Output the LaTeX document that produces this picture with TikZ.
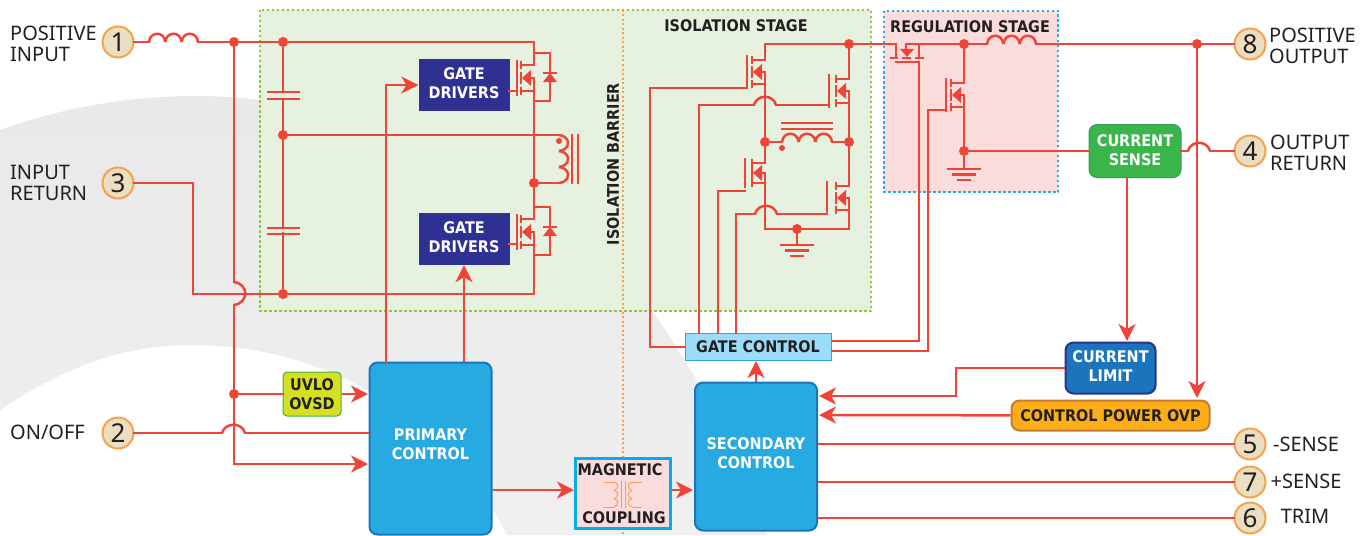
\documentclass[tikz,border=0pt]{standalone}
\usepackage{fontspec}
\setmainfont{Noto Sans}
\newfontfamily\boxfont{DejaVu Sans Condensed}
\usepackage{tkz-euclide}
\usepackage{xcolor}
\usetikzlibrary{arrows, arrows.meta}

\definecolor{wirered}{HTML}{F04438}
\definecolor{bgreytop}{HTML}{E9E9E9}
\definecolor{bgreylow}{HTML}{EFEFEF}
\definecolor{isogreen}{HTML}{E6F1DF}
\definecolor{isodots}{HTML}{8DC63F}
\definecolor{regpink}{HTML}{FBDCDD}
\definecolor{regdots}{HTML}{29ABE2}
\definecolor{magedge}{HTML}{00AEEF}
\definecolor{barorange}{HTML}{F9A14A}
\definecolor{inkdark}{HTML}{231F20}
\definecolor{ctrlblue}{HTML}{27AAE1}
\definecolor{ctrledge}{HTML}{1B75BC}
\definecolor{drvblue}{HTML}{2E3192}
\definecolor{pinfill}{HTML}{EADFC2}
\definecolor{uvlofill}{HTML}{D7DF23}
\definecolor{sensefill}{HTML}{39B54A}
\definecolor{senseedge}{HTML}{2E9E60}
\definecolor{gatefill}{HTML}{9BDCF9}
\definecolor{ovpfill}{HTML}{FBAE17}
\definecolor{ovpedge}{HTML}{C77B30}

\tikzset{
	wire/.style={color=wirered, line width=2.5pt, line cap=rect},
	flow/.style={wire, line cap=butt, -{Stealth[length=17pt,width=17pt,inset=5pt]}},
	thinwire/.style={color=barorange, line width=1pt},
	boxtext/.style={align=center, inner sep=0pt, font=\boxfont\bfseries\fontsize{16}{19}\selectfont},
	ctrlbox/.style={boxtext, rectangle, rounded corners=8pt, draw=ctrledge, line width=2pt, fill=ctrlblue, text=white},
	drvbox/.style={boxtext, rectangle, fill=drvblue, text=white, minimum width=91pt, minimum height=52pt, text depth=4pt},
	darktext/.style={boxtext, text=inkdark},
	pinball/.style={circle, draw=barorange, line width=2pt, fill=pinfill, minimum size=31pt, inner sep=0pt, text=inkdark, font=\fontsize{26}{26}\selectfont},
	pintext/.style={align=left, inner sep=0pt, text=inkdark, font=\fontsize{20}{21}\selectfont}
}

\newcommand{\fetsym}[4]{
	\draw[wire, line width=2pt, line cap=butt] (#4,{#2-#3-5}) -- (#4,{#2+#3+5});
	\draw[wire, line width=2pt, line cap=butt] (#1,{#2-#3-4}) -- (#1,{#2-#3+4}) (#1,{#2-6}) -- (#1,{#2+6}) (#1,{#2+#3-4}) -- (#1,{#2+#3+4});
	\draw[wire] (#1,{#2-#3}) -- ({#1+13},{#2-#3}) (#1,{#2+#3}) -- ({#1+13},{#2+#3}) -- ({#1+13},#2) -- ({#1+9},#2);
	\fill[wirered] ({#1+1},#2) -- ({#1+10},{#2-8}) -- ({#1+10},{#2+8}) -- cycle;
}
\newcommand{\diodesym}[2]{
	\draw[wire, line cap=butt] ({#1-7},#2) -- ({#1+7},#2);
	\fill[wirered] (#1,#2) -- ({#1+7},{#2+9}) -- ({#1-7},{#2+9}) -- cycle;
}
\newcommand{\capsym}[3]{
	\draw[wire, line cap=butt] ({#1-16.5},#2) -- ({#1+16.5},#2) ({#1-16.5},#3) -- ({#1+16.5},#3);
}
\newcommand{\gndsym}[2]{
	\draw[wire, line cap=butt] ({#1-17},#2) -- ({#1+17},#2) ({#1-12},{#2+5.5}) -- ({#1+12},{#2+5.5}) ({#1-7},{#2+11}) -- ({#1+7},{#2+11});
}
\newcommand{\coilh}[3]{
	\foreach \k in {0,1,2}
		\draw[wire, line cap=butt] ({#1+\k*#3},#2) .. controls +(1,-11) and +(-1,-11) .. +(#3,0);
}
\newcommand{\coilv}[5]{
	\foreach \k in {0,1,2}
		\draw[#1, line cap=butt] (#2,{#3+\k*#4}) .. controls +(#5,1) and +(#5,-1) .. +(0,#4);
}
\newcommand{\jumph}[2]{
	\draw[wire, line cap=butt] (#1) .. controls +(3,-11) and +(-3,-11) .. (#2);
}

\begin{document}
\begin{tikzpicture}[x=1pt,y=-1pt]
	\useasboundingbox (0,0) rectangle (1372,535);

	\path[top color=bgreytop, bottom color=bgreylow] (0,130) .. controls (60,108) and (130,96) .. (195,96) .. controls (400,96) and (590,220) .. (653,312) .. controls (700,380) and (745,460) .. (767,535) -- (507,535) .. controls (455,430) and (340,345) .. (190,345) .. controls (120,345) and (60,370) .. (0,410) -- cycle;
	\filldraw[fill=isogreen, draw=isodots, line width=2.5pt, dash pattern=on 2.5pt off 2.5pt] (260,10) rectangle (871,311);
	\filldraw[fill=regpink, draw=regdots, line width=2.5pt, dash pattern=on 2.5pt off 2.5pt] (884,11) rectangle (1058,192);
	\draw[barorange, line width=2pt, dash pattern=on 2pt off 2.5pt] (623,10) -- (623,535);

	\node[darktext] (isolab) at (736,26) {ISOLATION STAGE};
	\node[darktext] (reglab) at (970,27) {REGULATION STAGE};
	\node[darktext, rotate=90] (barlab) at (613,164) {ISOLATION BARRIER};

	\node[pinball] (t_1) at (118,42) {1};
	\node[pinball] (t_3) at (118,183) {3};
	\node[pinball] (t_2) at (118,433) {2};
	\node[pinball] (t_8) at (1250,44) {8};
	\node[pinball] (t_4) at (1250,151) {4};
	\node[pinball] (t_5) at (1250,444) {5};
	\node[pinball] (t_7) at (1250,482) {7};
	\node[pinball] (t_6) at (1250,518) {6};

	\node[pintext, anchor=west] (lab_1) at (10,44) {POSITIVE\\INPUT};
	\node[pintext, anchor=west] (lab_3) at (10,183) {INPUT\\RETURN};
	\node[pintext, anchor=west] (lab_2) at (10,432) {ON/OFF};
	\node[pintext, anchor=west] (lab_8) at (1269,46) {POSITIVE\\OUTPUT};
	\node[pintext, anchor=west] (lab_4) at (1270,153) {OUTPUT\\RETURN};
	\node[pintext] (lab_5) at (1306,444) {-SENSE};
	\node[pintext] (lab_7) at (1306,481) {+SENSE};
	\node[pintext] (lab_6) at (1305,516) {TRIM};

	\node[drvbox] (gd_1) at (464,85) {GATE\\DRIVERS};
	\node[drvbox] (gd_2) at (464,239) {GATE\\DRIVERS};
	\node[ctrlbox, minimum width=122pt, minimum height=172pt, text depth=8pt] (prim) at (430.5,448.5) {PRIMARY\\CONTROL};
	\node[ctrlbox, minimum width=122pt, minimum height=148pt, text depth=6pt] (sec) at (756,456.5) {SECONDARY\\CONTROL};
	\node[boxtext, rectangle, rounded corners=4pt, draw=sensefill, line width=1pt, fill=uvlofill, text=inkdark, minimum width=58pt, minimum height=44pt] (uvlo) at (312,394) {UVLO\\OVSD};
	\node[boxtext, rectangle, draw=regdots, line width=1pt, fill=gatefill, text=inkdark, minimum width=146pt, minimum height=27pt] (gc) at (758,347) {GATE CONTROL};
	\node[rectangle, draw=magedge, line width=2.5pt, fill=regpink, minimum width=95pt, minimum height=70pt] (mag) at (623,493.5) {};
	\node[darktext] (maglab_a) at (620,470) {MAGNETIC};
	\node[darktext] (maglab_b) at (624,518) {COUPLING};
	\node[boxtext, rectangle, rounded corners=8pt, draw=senseedge, line width=1pt, fill=sensefill, text=white, minimum width=92pt, minimum height=53pt, text depth=2pt] (cs) at (1135,151) {CURRENT\\SENSE};
	\node[boxtext, rectangle, rounded corners=8pt, draw=drvblue, line width=2pt, fill=ctrledge, text=white, minimum width=90pt, minimum height=51pt, text depth=4pt] (cl) at (1110.5,368) {CURRENT\\LIMIT};
	\node[boxtext, rectangle, rounded corners=8pt, draw=ovpedge, line width=2pt, fill=ovpfill, text=inkdark, minimum width=198pt, minimum height=30pt] (ovp) at (1110.5,415.5) {CONTROL POWER OVP};

	\tkzDefPoints{149/42/L_a, 198/42/L_b, 234/42/J_a, 283/42/J_b, 534/42/R_a, 534/65/R_b, 534/91/R_c, 534/183/J_sw, 534/219/R_d, 534/245/R_e, 534/294/R_f}
	\tkzDefPoints{534/53/D_a, 550/53/D_b, 550/101/D_c, 534/101/D_d, 534/207/D_e, 550/207/D_f, 550/255/D_g, 534/255/D_h}
	\tkzDefPoints{234/282/V_a, 234/305/V_b, 234/394/J_d, 234/464/V_c, 368/464/V_d, 368/394/V_e, 193/183/C_a, 193/294/C_b, 283/294/J_e}
	\tkzDefPoints{222/433/W_a, 245/433/W_b, 368/433/W_c, 283/92/K_a, 283/99/K_b, 283/135/J_c, 283/227/K_c, 283/233/K_d, 559/135/T_a, 559/183/T_b}
	\tkzDefPoints{386/362/U_a, 386/85/U_b, 464/362/U_c, 509/91/G_a, 516/91/G_b, 509/244/G_c, 516/244/G_d, 493/490/M_a, 574/490/M_b, 672/490/M_c, 693/490/M_d, 756/382/S_a, 756/361/S_b}
	\tkzDefPoints{747/88/P_a, 650/88/P_b, 650/347/P_c, 829/105/P_d, 776/105/P_e, 754/105/P_f, 699/105/P_g, 699/333/P_h, 745/191/P_i, 718/191/P_j, 718/333/P_k, 827/214/P_l, 777/214/P_m, 755/214/P_n, 736/214/P_o, 736/333/P_q}
	\tkzDefPoints{765/60/Z_a, 765/44/Z_b, 849/44/J_f, 849/79/Z_c, 765/84/Z_d, 765/142/J_g, 765/163/Z_e, 765/183/Z_f, 765/229/Z_g, 849/229/Z_h, 849/210/Z_i, 849/103/Z_j, 849/142/J_h, 849/186/Z_k, 782/142/Z_l, 832/142/Z_m, 797/229/J_i, 797/245/Z_n}
	\tkzDefPoints{896/44/Y_a, 896/58/Y_b, 906/44/Y_c, 906/50/Y_d, 919/44/Y_e, 919/58/Y_f, 964/44/J_j, 987/44/Y_g, 1036/44/Y_h, 1197/44/J_m, 964/83/Y_i, 964/107/Y_j, 964/151/J_k, 964/169/Y_k}
	\tkzDefPoints{919/62/Y_l, 919/341/Y_m, 832/341/Y_n, 946/110/Y_o, 928/110/Y_p, 928/351/Y_q, 832/351/Y_r}
	\tkzDefPoints{1188/151/N_a, 1210/151/N_b, 1127/178/N_c, 1127/341/N_d, 1197/398/N_e, 1064/368/N_f, 956/368/N_g, 956/396/N_h, 819/396/N_i, 819/415/N_j, 819/444/N_k, 819/482/N_l, 819/518/N_m}

	\foreach \a/\b in {L_b/R_a, R_a/R_b, R_c/J_sw, J_sw/R_d, R_e/R_f, D_a/D_b, D_b/D_c, D_c/D_d, D_e/D_f, D_f/D_g, D_g/D_h,
		J_a/V_a, V_b/V_c, C_a/C_b, C_b/R_f, W_b/W_c, J_b/K_a, K_b/J_c, J_c/K_c, K_d/J_e, J_c/T_a, J_sw/T_b,
		U_a/U_b, G_a/G_b, G_c/G_d,
		P_a/P_b, P_b/P_c, P_d/P_e, P_f/P_g, P_g/P_h, P_i/P_j, P_j/P_k, P_l/P_m, P_n/P_o, P_o/P_q,
		Z_a/Z_b, Z_b/J_f, J_f/Z_c, Z_d/J_g, J_g/Z_e, Z_f/Z_g, Z_g/Z_h, Z_h/Z_i, Z_j/J_h, J_h/Z_k, J_g/Z_l, Z_m/J_h, J_i/Z_n,
		J_f/Y_a, Y_a/Y_b, Y_c/J_j, Y_c/Y_d, Y_e/Y_f, J_j/Y_g, J_j/Y_i, Y_j/J_k, J_k/Y_k, Y_l/Y_m, Y_m/Y_n, Y_o/Y_p, Y_p/Y_q, Y_q/Y_r,
		N_f/N_g, N_g/N_h,
		t_1/L_a, t_3/C_a, t_2/W_a, Y_h/t_8, N_b/t_4, N_k/t_5, N_l/t_7, N_m/t_6, P_c/gc, J_k/cs, cs/N_a, J_d/uvlo}
		\draw[wire] (\a) -- (\b);

	\foreach \a/\b in {U_b/gd_1, U_c/gd_2, uvlo/V_e, ovp/N_j, V_c/V_d, M_a/M_b, M_c/M_d, S_a/S_b, N_c/N_d, J_m/N_e, N_h/N_i}
		\draw[flow] (\a) -- (\b);

	\jumph{P_f}{P_e}
	\jumph{P_n}{P_m}
	\jumph{W_a}{W_b}
	\jumph{N_a}{N_b}
	\draw[wire, line cap=butt] (V_a) .. controls +(15,2) and +(15,-2) .. (V_b);

	\capsym{283}{92}{99}
	\capsym{283}{228}{234}
	\coilh{149}{42}{16.33}
	\coilh{782}{142}{16.67}
	\coilh{987}{44}{16.33}
	\coilv{wire}{559}{135}{16}{12}
	\draw[wire, line cap=butt] (572,134) -- (572,184) (578,134) -- (578,184) (781,123) -- (833,123) (781,129) -- (833,129);
	\fill[wirered] (559,141) circle (3pt) (782,148) circle (3pt);

	\fetsym{521}{78}{13}{517}
	\fetsym{521}{232}{13}{517}
	\fetsym{752}{72}{12}{747}
	\fetsym{836}{91}{12}{829}
	\fetsym{752}{173}{10}{745}
	\fetsym{836}{198}{12}{827}
	\fetsym{951}{95}{12}{946}
	\diodesym{550}{73}
	\diodesym{550}{227}
	\gndsym{797}{245}
	\gndsym{964}{169}

	\draw[wire, line cap=butt] (890,58) -- (898,58) (902,58) -- (911,58) (915,58) -- (924,58) (895,62) -- (920,62);
	\fill[wirered] (907,57) -- (914,49) -- (900,49) -- cycle;

	\draw[thinwire] (604,482) -- (614,482) (632,482) -- (642,482) (604,507) -- (614,507) (632,507) -- (642,507) (621,481) -- (621,508) (625,481) -- (625,508);
	\coilv{thinwire}{614}{482}{8.33}{5}
	\coilv{thinwire}{632}{482}{8.33}{-5}

	\foreach \p in {J_a,J_b,J_c,J_d,J_e,J_f,J_g,J_h,J_i,J_j,J_k,J_m,J_sw}
		\fill[wirered] (\p) circle (5pt);
\end{tikzpicture}
\end{document}
